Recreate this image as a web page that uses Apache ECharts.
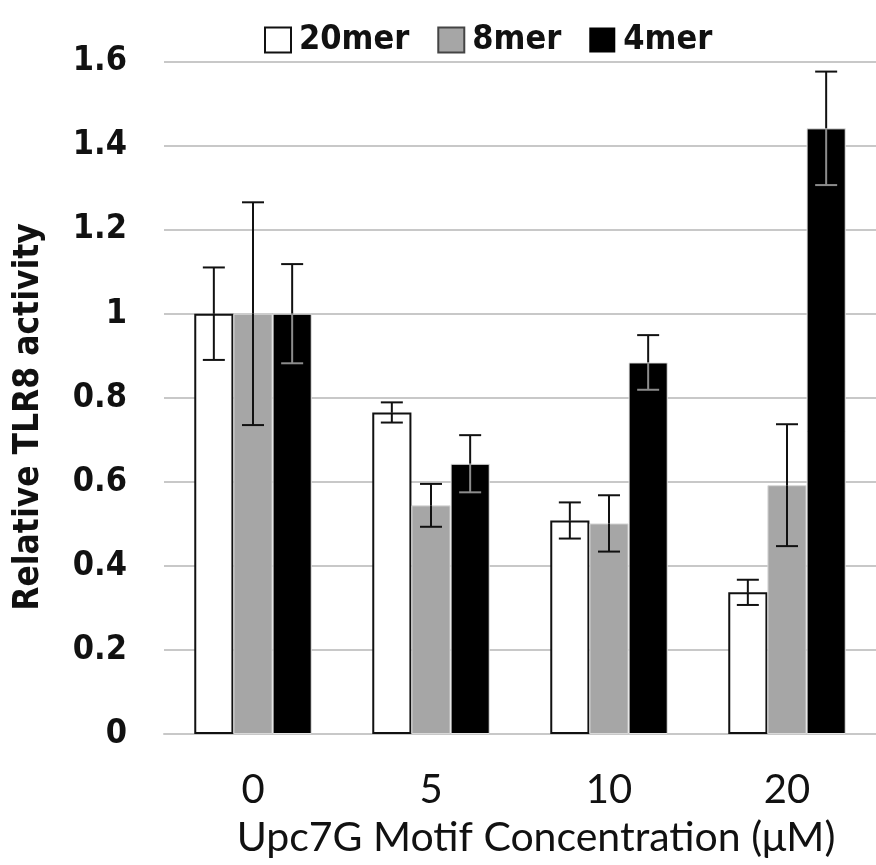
<!DOCTYPE html>
<html>
<head>
<meta charset="utf-8">
<script src="https://cdn.jsdelivr.net/npm/echarts@6/dist/echarts.min.js"></script>
<style>
  html, body { margin: 0; padding: 0; background: #fff; }
  #chart { width: 876px; height: 865px; }
</style>
</head>
<body>
<div id="chart"></div>
<script>
// 数据
const categories = ['0', '5', '10', '20']
const seriesNames = ['20mer', '8mer', '4mer']
const mer20 = [1.0, 0.765, 0.508, 0.337]
const mer8 = [1.0, 0.544, 0.501, 0.592]
const mer4 = [1.0, 0.643, 0.884, 1.441]
const err20 = [0.11, 0.024, 0.043, 0.03]
const err8 = [0.265, 0.051, 0.067, 0.145]
const err4 = [0.118, 0.068, 0.065, 0.135]
const yTicks = { min: 0, max: 1.6, interval: 0.2 }

const boldFont = '"DejaVu Sans Condensed", "DejaVu Sans", sans-serif'
const plainFont = 'Lato, "Open Sans", sans-serif'
const CAT_GAP = 0.34

const chart = echarts.init(document.getElementById('chart'))

// 误差线：k 为系列序号，用来算柱子的横向偏移
function errorSeries(k, values, errs, innerColor) {
  return {
    type: 'custom',
    z: 10,
    silent: true,
    data: values.map((v, i) => [i, v, errs[i]]),
    encode: { x: 0, y: 1 },
    renderItem(params, api) {
      const cat = api.value(0)
      const v = api.value(1)
      const e = api.value(2)
      const band = api.size([1, 0])[0]
      const barW = band * (1 - CAT_GAP) / 3
      const mid = api.coord([cat, v])
      const hi = api.coord([cat, v + e])
      const lo = api.coord([cat, v - e])
      const x = mid[0] + (k - 1) * barW
      const half = 11
      const dark = { stroke: '#111', lineWidth: 2 }
      const inner = { stroke: innerColor, lineWidth: 2 }
      return {
        type: 'group',
        children: [
          { type: 'line', shape: { x1: x, y1: hi[1], x2: x, y2: mid[1] }, style: dark },
          { type: 'line', shape: { x1: x, y1: mid[1], x2: x, y2: lo[1] }, style: inner },
          { type: 'line', shape: { x1: x - half, y1: hi[1], x2: x + half, y2: hi[1] }, style: dark },
          { type: 'line', shape: { x1: x - half, y1: lo[1], x2: x + half, y2: lo[1] }, style: inner },
        ],
      }
    },
  }
}

chart.setOption({
  animation: false,
  backgroundColor: '#fff',
  legend: {
    data: [
      { name: seriesNames[0], itemStyle: { color: '#fff', borderColor: '#111', borderWidth: 2 } },
      { name: seriesNames[1], itemStyle: { color: '#a6a6a6', borderColor: '#444', borderWidth: 2 } },
      { name: seriesNames[2], itemStyle: { color: '#000', borderWidth: 0 } },
    ],
    left: 259,
    top: 18,
    icon: 'rect',
    itemWidth: 26,
    itemHeight: 25,
    itemGap: 28,
    selectedMode: false,
    textStyle: {
      fontFamily: boldFont,
      fontSize: 34,
      fontWeight: 'bold',
      color: '#111',
      padding: [0, 0, 0, 3],
    },
  },
  grid: {
    left: 164,
    right: -4,
    top: 61.5,
    bottom: 131,
  },
  xAxis: {
    type: 'category',
    data: categories,
    axisTick: { show: false },
    axisLine: { lineStyle: { color: '#c8c8c8', width: 2 } },
    axisLabel: {
      margin: 36,
      fontFamily: plainFont,
      fontSize: 40,
      color: '#111',
    },
  },
  yAxis: {
    type: 'value',
    min: yTicks.min,
    max: yTicks.max,
    interval: yTicks.interval,
    axisLine: { show: false },
    axisTick: { show: false },
    splitLine: { lineStyle: { color: '#c8c8c8', width: 2 } },
    axisLabel: {
      margin: 37,
      fontFamily: boldFont,
      fontSize: 34,
      fontWeight: 'bold',
      color: '#111',
    },
  },
  graphic: [
    {
      type: 'text',
      x: 29,
      y: 417,
      rotation: Math.PI / 2,
      style: {
        text: 'Relative TLR8 activity',
        font: 'bold 35px ' + boldFont,
        fill: '#111',
        textAlign: 'center',
        textVerticalAlign: 'middle',
      },
    },
    {
      type: 'text',
      x: 536,
      y: 838,
      style: {
        text: 'Upc7G Motif Concentration (μM)',
        font: '41px ' + plainFont,
        fill: '#111',
        textAlign: 'center',
        textVerticalAlign: 'middle',
      },
    },
  ],
  series: [
    {
      name: seriesNames[0],
      type: 'bar',
      data: mer20,
      barGap: '0%',
      barCategoryGap: '34%',
      itemStyle: { color: '#fff', borderColor: '#111', borderWidth: 2 },
    },
    {
      name: seriesNames[1],
      type: 'bar',
      data: mer8,
      barGap: '0%',
      barCategoryGap: '34%',
      itemStyle: { color: '#a6a6a6', borderColor: '#d9d9d9', borderWidth: 1 },
    },
    {
      name: seriesNames[2],
      type: 'bar',
      data: mer4,
      barGap: '0%',
      barCategoryGap: '34%',
      itemStyle: { color: '#000', borderColor: '#e6e6e6', borderWidth: 1 },
    },
    errorSeries(0, mer20, err20, '#111'),
    errorSeries(1, mer8, err8, '#111'),
    errorSeries(2, mer4, err4, '#8c8c8c'),
  ],
})
</script>
</body>
</html>
